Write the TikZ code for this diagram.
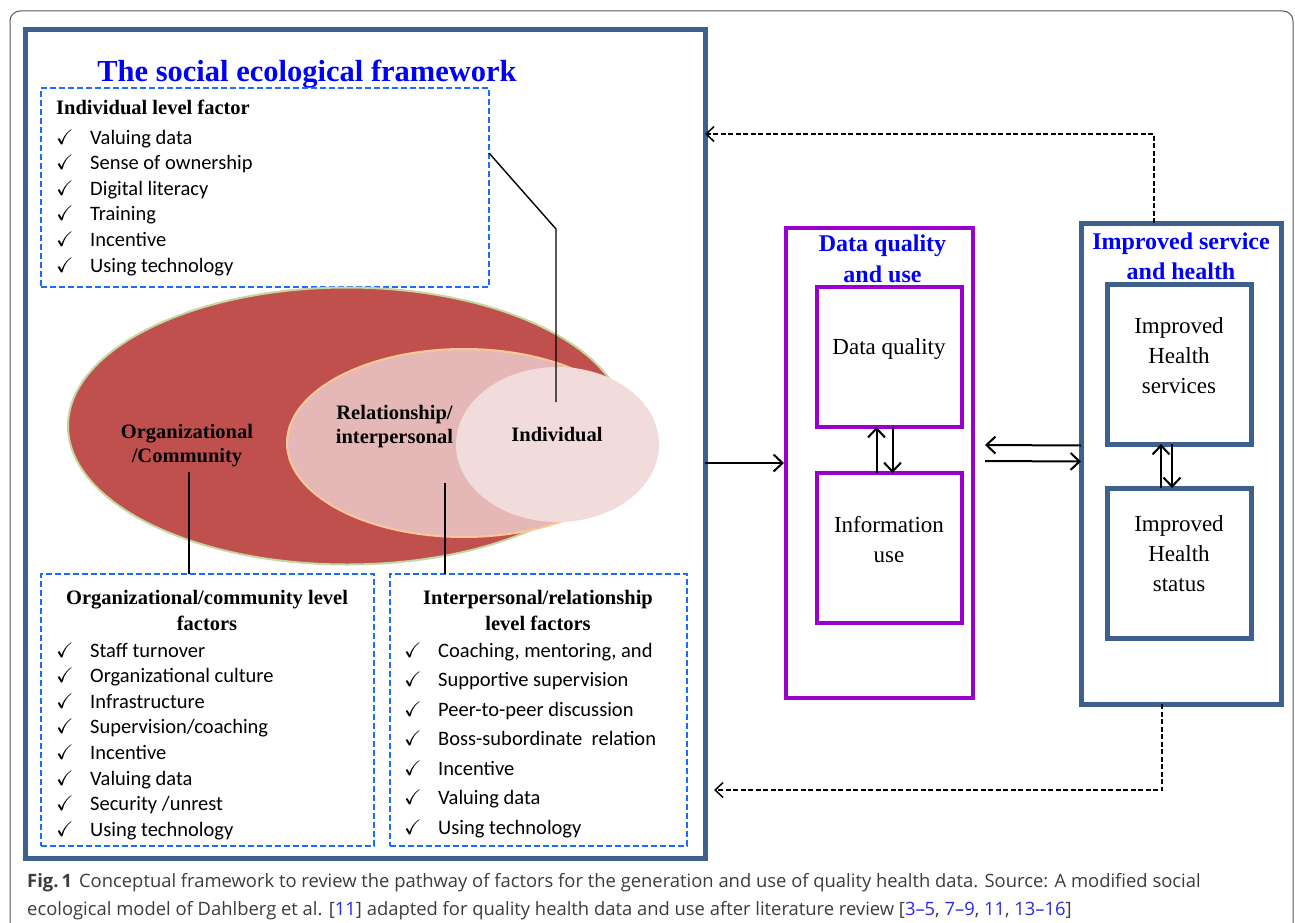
\documentclass[tikz,border=0pt]{standalone}
\usepackage{amsmath,amssymb}
\usepackage{fontspec}
\setmainfont{Liberation Serif}
\newfontfamily\calibrifont{Carlito}
\newfontfamily\captionfont{Open Sans}
\usetikzlibrary{shapes.geometric, arrows.meta}
\usetikzlibrary{positioning}

\definecolor{frameblue}{RGB}{62,96,140}
\definecolor{dashblue}{RGB}{28,108,255}
\definecolor{titleblue}{RGB}{0,0,250}
\definecolor{dqpurple}{RGB}{153,0,204}
\definecolor{orgred}{RGB}{192,80,77}
\definecolor{orgedge}{RGB}{195,216,160}
\definecolor{relfill}{RGB}{229,184,183}
\definecolor{reledge}{RGB}{250,200,150}
\definecolor{indfill}{RGB}{242,220,219}
\definecolor{captext}{RGB}{60,60,60}
\definecolor{citeblue}{RGB}{40,40,235}

\tikzstyle{mainframe} = [rectangle,
outer sep=0pt, inner sep=0pt,
anchor=north west,
draw=frameblue,
line width=5pt]
\tikzstyle{factorbox} = [rectangle,
outer sep=0pt, inner sep=0pt,
anchor=north west,
draw=dashblue,
line width=1.8pt,
dash pattern=on 6pt off 3pt]
\tikzstyle{dqbox} = [rectangle,
outer sep=0pt, inner sep=0pt,
anchor=north west,
draw=dqpurple,
line width=4.5pt]
\tikzstyle{sectitle} = [inner sep=0pt,
text=titleblue,
align=center,
font=\fontsize{24}{31}\selectfont\bfseries]
\tikzstyle{head} = [inner sep=0pt,
align=center,
font=\fontsize{20.5}{26}\selectfont\bfseries]
\tikzstyle{boxtext} = [inner sep=0pt,
align=center,
font=\fontsize{23}{30}\selectfont]
\tikzstyle{tick} = [inner sep=0pt,
anchor=base west,
font=\fontsize{21}{22}\selectfont]
\tikzstyle{item} = [inner sep=0pt,
anchor=base west,
font=\calibrifont\fontsize{20.5}{24}\selectfont]
\tikzstyle{caption} = [inner sep=0pt,
anchor=base west,
text=captext,
font=\captionfont\fontsize{18.4}{21}\selectfont]
\tikzstyle{link} = [line width=1.4pt]
\tikzstyle{arrow} = [line width=2pt, -{Straight Barb[length=9pt,width=17pt]}]
\tikzstyle{fback} = [line width=1.5pt, dash pattern=on 5pt off 2.5pt, -{Straight Barb[length=8pt,width=15pt]}]

\begin{document}
\begin{tikzpicture}[x=1pt, y=-1pt]
\useasboundingbox (0,0) rectangle (1295,923);
\draw [gray!70!black, line width=1pt, rounded corners=10pt] (10,11) rectangle (1293,960);

% social ecological framework
\node (sef_frame) [mainframe, minimum width=680, minimum height=828] at (25,30) {};
\node (sef_title) [sectitle, anchor=base, font=\fontsize{30.5}{33}\selectfont\bfseries] at (307,82) {The social ecological framework};

\node (ind_box) [factorbox, minimum width=448, minimum height=199] at (41,88) {};
\node (ind_head) [head, anchor=base west] at (56,115) {Individual level factor};
\foreach \txt [count=\i] in {Valuing data, Sense of ownership, Digital literacy, Training, Incentive, Using technology}{
  \node (ind_ck\i) [tick] at (56,{144+25.6*(\i-1)}) {$\checkmark$};
  \node (ind_it\i) [item] at (90,{144+25.6*(\i-1)}) {\txt};
}

\node (org_ell) [ellipse, inner sep=0pt, fill=orgred, draw=orgedge, line width=2pt, minimum width=558, minimum height=277] at (347,426) {};
\node (rel_ell) [ellipse, inner sep=0pt, fill=relfill, draw=reledge, line width=2pt, minimum width=354, minimum height=188] at (464,443) {};
\node (ind_ell) [ellipse, inner sep=0pt, fill=indfill, minimum width=203, minimum height=155] at (557.5,444.5) {};

\node (org_lbl) [head, font=\fontsize{20.5}{24}\selectfont\bfseries] at (187,446) {Organizational\\/Community};
\node (rel_lbl) [head, font=\fontsize{20.5}{24}\selectfont\bfseries] at (394.5,427) {Relationship/\\interpersonal};
\node (ind_lbl) [head, anchor=base] at (557,441) {Individual};

\node (orgf_box) [factorbox, minimum width=333, minimum height=272] at (41,574) {};
\node (orgf_head) [head] at (207,610) {Organizational/community level\\factors};
\foreach \txt [count=\i] in {Staff turnover, Organizational culture, Infrastructure, Supervision/coaching, Incentive, Valuing data, Security /unrest, Using technology}{
  \node (orgf_ck\i) [tick] at (56,{657+25.6*(\i-1)}) {$\checkmark$};
  \node (orgf_it\i) [item] at (90,{657+25.6*(\i-1)}) {\txt};
}

\node (relf_box) [factorbox, minimum width=297, minimum height=272] at (390,574) {};
\node (relf_head) [head] at (538,610) {Interpersonal/relationship\\level factors};
\foreach \txt [count=\i] in {{Coaching, mentoring, and}, Supportive supervision, Peer-to-peer discussion, Boss-subordinate~ relation, Incentive, Valuing data, Using technology}{
  \node (relf_ck\i) [tick] at (404,{657+29.5*(\i-1)}) {$\checkmark$};
  \node (relf_it\i) [item] at (438,{657+29.5*(\i-1)}) {\txt};
}

\coordinate (ind_bend) at (556,229);
\coordinate (ind_end) at (556,402);
\coordinate (org_end) at (189,472);
\coordinate (rel_end) at (445,483);
\draw [link] ([yshift=-65pt]ind_box.north east) -- (ind_bend) -- (ind_end);
\draw [link] (org_end) -- (org_end |- orgf_box.north);
\draw [link] (rel_end) -- (rel_end |- relf_box.north);

% data quality and use
\node (dq_box) [dqbox, minimum width=187, minimum height=470] at (786,228) {};
\node (dq_title) [sectitle] at (882.5,258.5) {Data quality\\and use};
\node (dq_in) [dqbox, minimum width=145, minimum height=140] at (817,287) {};
\node (iu_in) [dqbox, minimum width=145, minimum height=150] at (817,473) {};
\node (dq_txt) [boxtext, anchor=base] at (889,354) {Data quality};
\node (iu_txt) [boxtext] at (889,540) {Information\\use};

% improved service and health
\node (ish_box) [mainframe, minimum width=200, minimum height=481] at (1081,223) {};
\node (ish_title) [sectitle, font=\fontsize{24}{30}\selectfont\bfseries] at (1181,256) {Improved service\\and health};
\node (hs_in) [mainframe, minimum width=144, minimum height=160] at (1107,284) {};
\node (hst_in) [mainframe, minimum width=144, minimum height=150] at (1107,488) {};
\node (hs_txt) [boxtext] at (1179,355.5) {Improved\\Health\\services};
\node (hst_txt) [boxtext] at (1179,553.5) {Improved\\Health\\status};

\draw [arrow, shorten >=2pt] (dq_box.west -| sef_frame.east) -- (dq_box.west);
\draw [arrow] ([yshift=18pt]ish_box.west) -- ([xshift=12pt,yshift=18pt]dq_box.east);
\draw [arrow] ([xshift=12pt,yshift=2pt]dq_box.east) -- ([yshift=2pt]ish_box.west);
\draw [arrow] ([xshift=-13pt]iu_in.north) -- ([xshift=-13pt]dq_in.south);
\draw [arrow] ([xshift=3pt]dq_in.south) -- ([xshift=3pt]iu_in.north);
\draw [arrow] ([xshift=-18pt]hst_in.north) -- ([xshift=-18pt]hs_in.south);
\draw [arrow] ([xshift=-7pt]hs_in.south) -- ([xshift=-7pt]hst_in.north);

\coordinate (fb_top) at (1154,134);
\coordinate (fb_bot) at (1162,790);
\coordinate (fb_end) at (714,790);
\draw [fback] ([xshift=-27pt]ish_box.north) -- (fb_top) -- (fb_top -| sef_frame.east);
\draw [fback] ([xshift=-19pt]ish_box.south) -- (fb_bot) -- (fb_end);

% caption
\node (cap1) [caption] at (27,887) {\textbf{Fig.\,1}\hspace{7pt}Conceptual framework to review the pathway of factors for the generation and use of quality health data. Source: A modified social};
\node (cap2) [caption] at (27,915) {ecological model of Dahlberg et al. [\textcolor{citeblue}{11}] adapted for quality health data and use after literature review [\textcolor{citeblue}{3–5}, \textcolor{citeblue}{7–9}, \textcolor{citeblue}{11}, \textcolor{citeblue}{13–16}]};
\end{tikzpicture}
\end{document}
